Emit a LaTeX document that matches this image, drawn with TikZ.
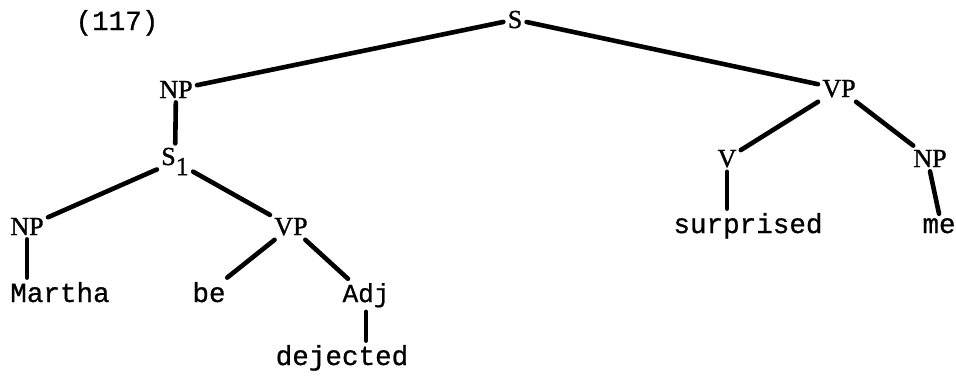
\documentclass[tikz,border=0pt]{standalone}
\usepackage{fontspec}
\setmainfont{Liberation Serif}[FakeBold=1.2]
\setmonofont{Liberation Mono}[FakeBold=0.8]
\usepackage{tikz}

\begin{document}
\begin{tikzpicture}[x=0.5pt,y=-0.5pt,
        cat/.style={font=\fontsize{13}{15}\selectfont, inner sep=2pt, anchor=base},
        word/.style={font=\ttfamily\fontsize{13.8}{16}\selectfont, inner sep=2pt, anchor=base},
        branch/.style={line width=2.3pt, line cap=round}]
        % fixing the page to the size of the scan
        \useasboundingbox (0,0) rectangle (956,377);

        \node[word] (num) at (117,30) {(117)};

        % top of the tree
        \node[cat] (S) at (515,28) {S};
        \node[cat] (NPa) at (176,98) {NP};
        \node[cat] (VPa) at (839,97) {VP};

        % the embedded sentence
        \node[cat] (S1) at (175,165) {S\raisebox{-0.85ex}{1}};
        \node[cat] (NPb) at (27,235) {NP};
        \node[cat] (VPb) at (291,235) {VP};
        \node[word] (Martha) at (60,302) {Martha};
        \node[word] (be) at (209,302) {be};
        \node[cat] (Adj) at (366,302) {\ttfamily Adj};
        \node[word] (dejected) at (342,365) {dejected};

        % the main verb phrase
        \node[cat] (V) at (727,167) {V};
        \node[cat] (NPc) at (930,167) {NP};
        \node[word] (surprised) at (748,233) {surprised};
        \node[word] (me) at (939,233) {me};

        % branches
        \draw[branch] (S) -- (NPa);
        \draw[branch] (S) -- (VPa);
        \draw[branch] (NPa) -- (S1);
        \draw[branch] (S1) -- (NPb);
        \draw[branch] (S1) -- (VPb);
        \draw[branch] (NPb.south) -- (NPb.south |- Martha.north);
        \draw[branch] (VPb) -- (be);
        \draw[branch] (VPb) -- (Adj);
        \draw[branch] (Adj.south) -- (Adj.south |- dejected.north);
        \draw[branch] (VPa) -- (V);
        \draw[branch] (VPa) -- (NPc);
        \draw[branch] (V.south) -- (V.south |- surprised.north);
        \draw[branch] (NPc.south) -- (me.north);
\end{tikzpicture}
\end{document}
